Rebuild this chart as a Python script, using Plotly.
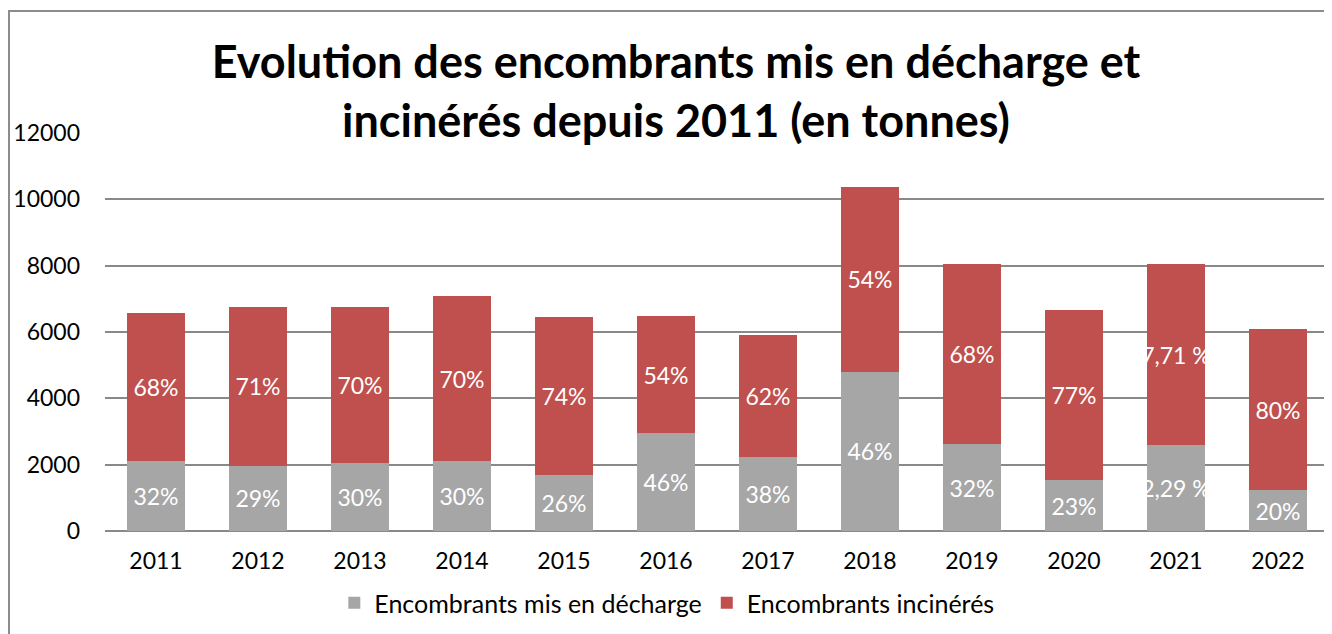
import plotly.graph_objects as go

years = ["2011", "2012", "2013", "2014", "2015", "2016", "2017", "2018", "2019", "2020", "2021", "2022"]
decharge = [2100, 1970, 2060, 2100, 1680, 2955, 2225, 4805, 2615, 1530, 2585, 1230]
total = [6565, 6745, 6765, 7090, 6445, 6475, 5900, 10385, 8065, 6675, 8045, 6095]
incineres = [t - d for t, d in zip(total, decharge)]
labels_decharge = ["32%", "29%", "30%", "30%", "26%", "46%", "38%", "46%", "32%", "23%", "2,29 %", "20%"]
labels_incineres = ["68%", "71%", "70%", "70%", "74%", "54%", "62%", "54%", "68%", "77%", "7,71 %", "80%"]
y_ticks = [0, 2000, 4000, 6000, 8000, 10000, 12000]

FONT = "Lato"
GRAY = "#A6A6A6"
RED = "#C0504D"

fig = go.Figure()
fig.add_trace(go.Bar(
    x=years, y=decharge, name="Encombrants mis en décharge",
    marker=dict(color=GRAY, line=dict(width=0)),
    text=labels_decharge, textposition="inside", insidetextanchor="middle", textangle=0,
    constraintext="none", textfont=dict(color="white", size=23, family=FONT),
    hoverinfo="x+y+name",
))
fig.add_trace(go.Bar(
    x=years, y=incineres, name="Encombrants incinérés",
    marker=dict(color=RED, line=dict(width=0)),
    text=labels_incineres, textposition="inside", insidetextanchor="middle", textangle=0,
    constraintext="none", textfont=dict(color="white", size=23, family=FONT),
    hoverinfo="x+y+name",
))

fig.update_layout(
    width=1324, height=626,
    barmode="stack", bargap=0.43,
    paper_bgcolor="white", plot_bgcolor="white",
    margin=dict(l=97, r=3, t=125, b=103, autoexpand=False),
    font=dict(family=FONT, color="black", size=23),
    title=dict(
        text="<b>Evolution des encombrants mis en décharge et<br>incinérés depuis 2011 (en tonnes)</b>",
        x=(668 - 0) / 1324, xref="container", xanchor="center",
        y=1 - 70 / 626, yref="container", yanchor="middle",
        font=dict(family=FONT, size=45, color="black"),
    ),
    legend=dict(
        orientation="h", x=0.459, xanchor="center", y=-0.181, yanchor="middle",
        traceorder="normal", font=dict(family=FONT, size=25, color="black"),
        itemwidth=30,
    ),
    xaxis=dict(
        showgrid=False, showline=False, ticks="", ticklabelstandoff=14,
        tickfont=dict(family=FONT, size=23, color="black"),
    ),
    yaxis=dict(
        range=[0, 12000], tickvals=y_ticks, ticktext=[str(v) for v in y_ticks],
        showgrid=True, gridcolor="#898989", gridwidth=2,
        zeroline=True, zerolinecolor="#898989", zerolinewidth=2,
        ticks="", ticklabelstandoff=24,
        tickfont=dict(family=FONT, size=23, color="black"),
    ),
    shapes=[dict(
        type="rect", xref="paper", yref="paper",
        x0=(9 - 105) / 1224, x1=1.05, y0=-0.4, y1=(531 - 11) / 398,
        line=dict(color="#8C8C8C", width=2), fillcolor="rgba(0,0,0,0)", layer="below",
    )],
)

fig.write_html("out.html")
